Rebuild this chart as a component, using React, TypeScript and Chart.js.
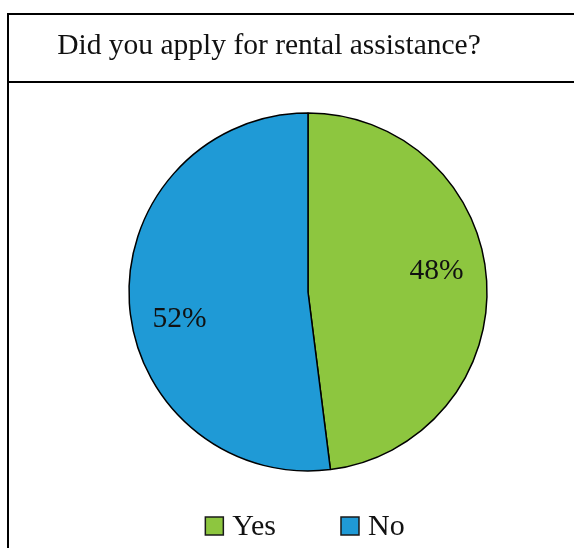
import React, { useEffect, useRef } from "react";
import { Chart, registerables } from "chart.js";

Chart.register(...registerables);

const titleText = "Did you apply for rental assistance?";
const categories = ["Yes", "No"];
const values = [48, 52];
const sliceColors = ["#8DC63F", "#1F9AD6"];

const FONT = '"Liberation Serif", "Times New Roman", serif';

const framePlugin = {
  id: "frame",
  beforeDraw(chart: any) {
    const ctx = chart.ctx;
    ctx.save();
    ctx.fillStyle = "#ffffff";
    ctx.fillRect(0, 0, chart.width, chart.height);
    ctx.strokeStyle = "#000000";
    ctx.lineWidth = 2;
    ctx.beginPath();
    ctx.moveTo(8, 13);
    ctx.lineTo(8, chart.height);
    ctx.moveTo(7, 14);
    ctx.lineTo(chart.width, 14);
    ctx.moveTo(7, 82);
    ctx.lineTo(chart.width, 82);
    ctx.stroke();
    ctx.fillStyle = "#111111";
    ctx.font = `29.5px ${FONT}`;
    ctx.textAlign = "center";
    ctx.textBaseline = "alphabetic";
    ctx.fillText(titleText, 269, 54);
    ctx.restore();
  },
  afterDraw(chart: any) {
    const ctx = chart.ctx;
    const meta = chart.getDatasetMeta(0);
    const ds = chart.data.datasets[0];
    ctx.save();
    ctx.fillStyle = "#111111";
    ctx.font = `29.5px ${FONT}`;
    ctx.textAlign = "center";
    ctx.textBaseline = "middle";
    const rot = (-7 * Math.PI) / 180;
    meta.data.forEach((arc: any, i: number) => {
      const p = arc.getProps(["x", "y", "startAngle", "endAngle", "outerRadius"], true);
      const mid = (p.startAngle + p.endAngle) / 2 + rot;
      const r = p.outerRadius * 0.73;
      ctx.fillText(`${ds.data[i]}%`, p.x + r * Math.cos(mid), p.y + r * Math.sin(mid) + 3);
    });

    // legend
    ctx.font = `30px ${FONT}`;
    const labels = chart.data.labels as string[];
    const box = 18;
    const gapText = 9;
    const gapItem = 65;
    const widths = labels.map((l) => ctx.measureText(l).width);
    let total = 0;
    widths.forEach((w: number, i: number) => {
      total += box + gapText + w + (i < widths.length - 1 ? gapItem : 0);
    });
    let x = 305 - total / 2;
    const yMid = 526;
    ctx.textAlign = "left";
    ctx.textBaseline = "middle";
    labels.forEach((l, i) => {
      ctx.fillStyle = (ds.backgroundColor as string[])[i];
      ctx.fillRect(x, yMid - box / 2, box, box);
      ctx.strokeStyle = "#1a1a1a";
      ctx.lineWidth = 1.5;
      ctx.strokeRect(x, yMid - box / 2, box, box);
      ctx.fillStyle = "#111111";
      ctx.fillText(l, x + box + gapText, yMid + 1);
      x += box + gapText + widths[i] + gapItem;
    });
    ctx.restore();
  },
};

export default function App() {
  const ref = useRef<HTMLCanvasElement>(null);
  useEffect(() => {
    if (!ref.current) return;
    const chart = new Chart(ref.current, {
      type: "pie",
      data: {
        labels: categories,
        datasets: [
          {
            data: values,
            backgroundColor: sliceColors,
            borderColor: "#000000",
            borderWidth: 1.5,
          },
        ],
      },
      options: {
        responsive: false,
        animation: false,
        radius: 179,
        layout: { padding: { left: 42, right: 0, top: 80, bottom: 44 } },
        plugins: {
          legend: { display: false },
          title: { display: false },
          tooltip: { enabled: false },
        },
      } as any,
      plugins: [framePlugin],
    });
    return () => chart.destroy();
  }, []);
  return (
    <div style={{ position: "fixed", left: 0, top: 0, width: 574, height: 548, background: "#fff" }}>
      <canvas ref={ref} width={574} height={548} />
    </div>
  );
}
